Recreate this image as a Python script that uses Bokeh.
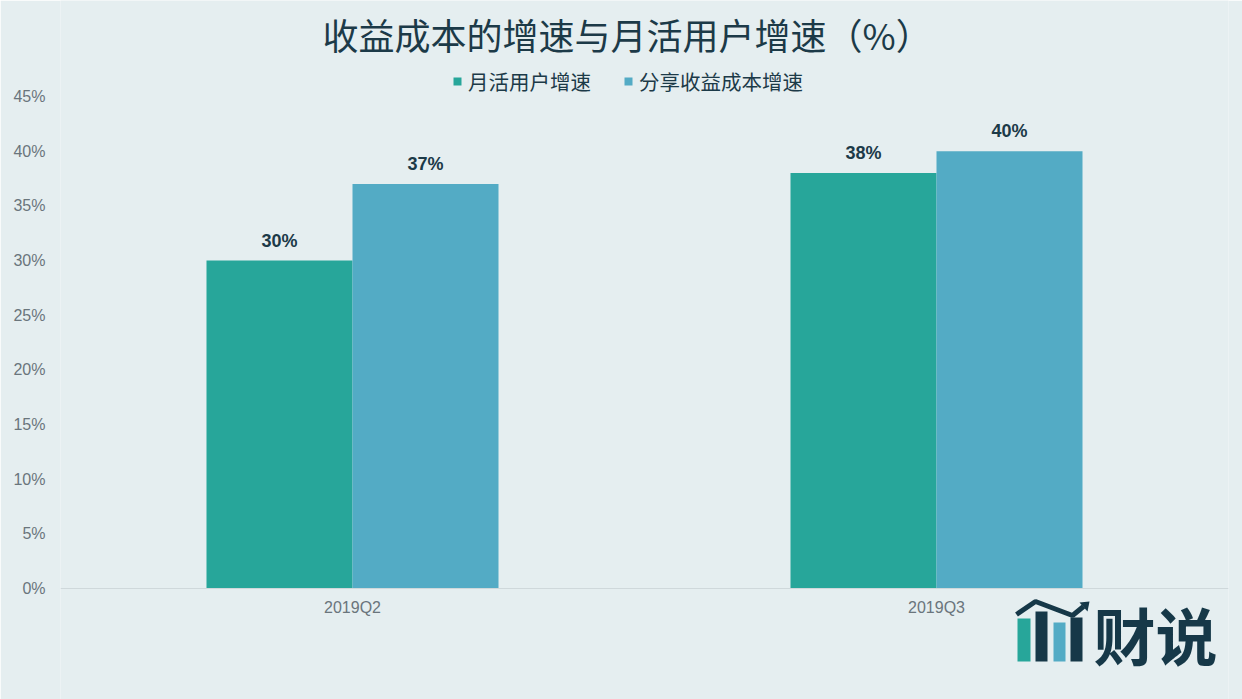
from bokeh.plotting import figure
from bokeh.models import (FactorRange, ColumnDataSource, Legend, LegendItem,
                          PrintfTickFormatter, FixedTicker, Range1d)
from bokeh.transform import dodge
from bokeh.core.properties import value
from bokeh.embed import file_html
from bokeh.resources import INLINE

# ---- data ----
quarters = ["2019Q2", "2019Q3"]
mau_growth = [30, 38]          # 月活用户增速 (%)
cost_growth = [37, 40]         # 分享收益成本增速 (%)
series_names = ["月活用户增速", "分享收益成本增速"]
y_ticks = [0, 5, 10, 15, 20, 25, 30, 35, 40, 45]
title_text = "收益成本的增速与月活用户增速（%）"
logo_text = "财说"

BG = "#e5eef0"
GREEN = "#27a69a"
BLUE = "#53abc5"
DARK = "#1c3a48"
NAVY = "#163848"

W, H = 1242, 699
FRAME_L, FRAME_R = 60, 1228
AXIS_Y, TOP45_Y = 588, 96       # pixel rows of 0% and 45%
Y_TOP_TICK = 45
y_per_px = Y_TOP_TICK / (AXIS_Y - TOP45_Y)
Y_TOP = Y_TOP_TICK + TOP45_Y * y_per_px          # frame spans the full height
Y_BOTTOM = -(H - AXIS_Y) * y_per_px

src = ColumnDataSource(dict(
    q=quarters,
    a=mau_growth,
    b=cost_growth,
    a_lbl=[f"{v}%" for v in mau_growth],
    b_lbl=[f"{v}%" for v in cost_growth],
))

p = figure(width=W, height=H, output_backend="svg", toolbar_location=None,
           title_location=None,
           x_range=FactorRange(*quarters, range_padding=0),
           y_range=Range1d(Y_BOTTOM, Y_TOP),
           min_border_left=FRAME_L, min_border_right=W - FRAME_R,
           min_border_top=0, min_border_bottom=0)
p.background_fill_color = BG
p.border_fill_color = BG
p.outline_line_color = None
p.xgrid.grid_line_color = None
p.ygrid.grid_line_color = None

r1 = p.vbar(x=dodge("q", -0.125, range=p.x_range), top="a", width=0.25, source=src,
            fill_color=GREEN, line_color=None)
r2 = p.vbar(x=dodge("q", 0.125, range=p.x_range), top="b", width=0.25, source=src,
            fill_color=BLUE, line_color=None)

for col, off in (("a", -0.125), ("b", 0.125)):
    p.text(x=dodge("q", off, range=p.x_range), y=col, text=col + "_lbl", source=src,
           text_align="center", text_baseline="middle", y_offset=-20,
           text_font=value("Liberation Sans"), text_font_style="bold",
           text_font_size="18px", text_color=DARK)

# axes
p.yaxis.ticker = FixedTicker(ticks=y_ticks)
p.yaxis.formatter = PrintfTickFormatter(format="%d%%")
p.yaxis.axis_line_color = None
p.yaxis.major_tick_line_color = None
p.yaxis.minor_tick_line_color = None
p.yaxis.major_tick_out = 0
p.yaxis.minor_tick_out = 0
p.yaxis.major_label_standoff = 15
p.yaxis.major_label_text_font = "Liberation Sans"
p.yaxis.major_label_text_font_size = "16px"
p.yaxis.major_label_text_color = "#6a757c"

p.xaxis.fixed_location = 0
p.xaxis.axis_line_color = "#cfd8db"
p.xaxis.major_tick_line_color = None
p.xaxis.minor_tick_line_color = None
p.xaxis.major_tick_out = 0
p.xaxis.major_label_standoff = 10
p.xaxis.major_label_text_font = "Liberation Sans"
p.xaxis.major_label_text_font_size = "16px"
p.xaxis.major_label_text_color = "#6a757c"

# legend (inside the tall frame, above the plotting area)
legend = Legend(items=[LegendItem(label=series_names[0], renderers=[r1]),
                       LegendItem(label=series_names[1], renderers=[r2])],
                orientation="horizontal", location=(392, H - 84 - 12),
                label_text_font="Noto Sans CJK SC", label_text_font_size="20.5px",
                label_text_color=DARK, glyph_width=10, glyph_height=10,
                label_standoff=6, spacing=32, padding=0, margin=0,
                border_line_color=None, background_fill_alpha=0)
p.add_layout(legend, "center")


def dx(sx):
    return (sx - FRAME_L) / (FRAME_R - FRAME_L) * 2


def dy(sy):
    return (AXIS_Y - sy) * y_per_px


# title
p.text(x=[dx(322)], y=[dy(33)], text=[title_text], text_align="left",
       text_baseline="middle", text_font=value("Noto Sans CJK SC"),
       text_font_size="36px", text_color=DARK)

# logo (decoration, bottom right)
logo_bars = [(1017, 1030, 618, GREEN), (1035, 1047, 611, NAVY),
             (1053, 1065, 622, BLUE), (1070, 1082, 617, NAVY)]
for l, r, t, c in logo_bars:
    p.quad(left=dx(l), right=dx(r), top=dy(t), bottom=dy(661), fill_color=c,
           line_color=None)
p.line(x=[dx(1016), dx(1035), dx(1072), dx(1083)],
       y=[dy(614), dy(601), dy(615), dy(606)], line_color=NAVY, line_width=5)
p.patch(x=[dx(1079), dx(1089), dx(1087)], y=[dy(602), dy(601), dy(611)],
        fill_color=NAVY, line_color=None)
p.text(x=[dx(1093)], y=[dy(633)], text=[logo_text], text_align="left",
       text_baseline="middle", text_font=value("Noto Sans CJK SC"),
       text_font_style="bold", text_font_size="62px", text_color=NAVY)

html = file_html(p, INLINE)
html = html.replace("<body>", f'<body style="background:{BG};">', 1)
open("out.html", "w").write(html)
